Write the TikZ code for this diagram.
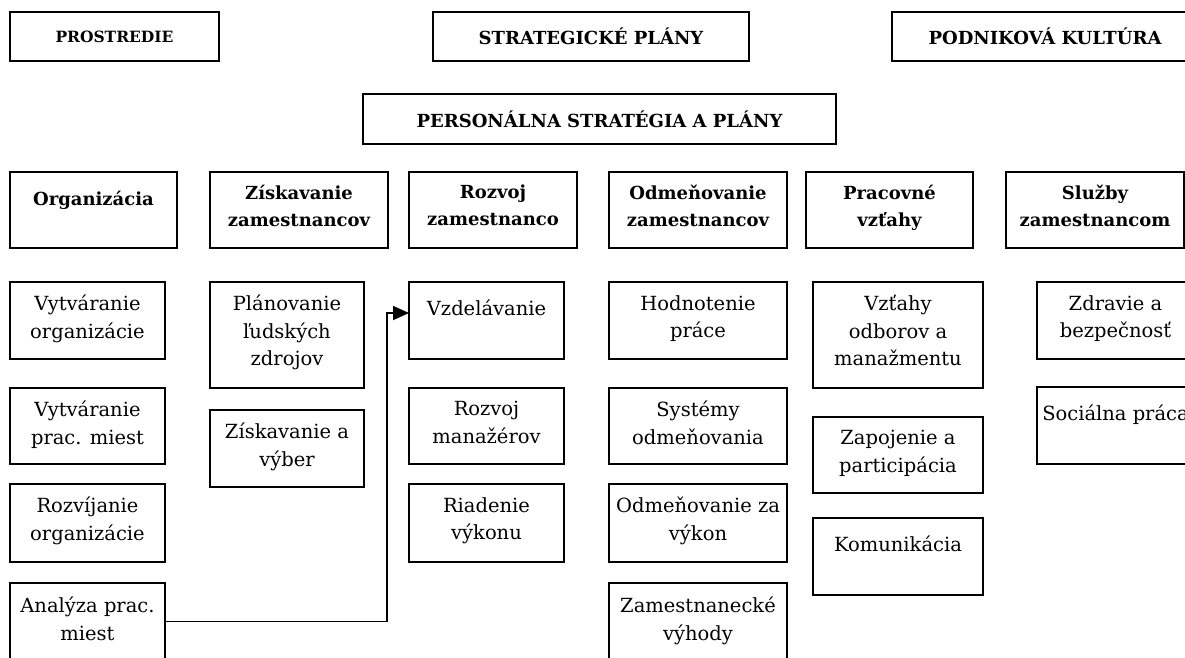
\documentclass[tikz,border=0pt]{standalone}
\usepackage{fontspec}
\setmainfont{DejaVu Serif}
\usetikzlibrary{arrows.meta}
\tikzset{
  box/.style={draw, line width=1.8pt, rectangle, inner sep=0pt, outer sep=0pt},
  txt/.style={anchor=north, inner sep=0pt, align=center,
    font=\fontsize{19.5}{27.5}\selectfont, execute at begin node={\rule{0pt}{20pt}}},
  htxt/.style={txt, font=\bfseries\fontsize{18}{27}\selectfont},
  ttxt/.style={inner sep=0pt, font=\bfseries\fontsize{18}{22}\selectfont},
  conn/.style={line width=1.8pt, -{Triangle[length=16pt,width=14pt]}}
}
\begin{document}
\begin{tikzpicture}[x=1pt,y=-1pt]
\useasboundingbox (0,0) rectangle (1185,657);
\clip (0,0) rectangle (1185,657);
% top row
\node[box, minimum width=209pt, minimum height=49pt] (pro) at (114.5,36.5) {};
\node[ttxt, font=\bfseries\fontsize{15.5}{19}\selectfont] (prot) at (pro.center) {PROSTREDIE};
\node[box, minimum width=316pt, minimum height=49pt] (str) at (591,36.5) {};
\node[ttxt] (strt) at (str.center) {STRATEGICKÉ PLÁNY};
\node[box, minimum width=306pt, minimum height=49pt] (pod) at (1045,36.5) {};
\node[ttxt] (podt) at (pod.center) {PODNIKOVÁ KULTÚRA};
\node[box, minimum width=473pt, minimum height=50pt] (per) at (599.5,119) {};
\node[ttxt] (pert) at (per.center) {PERSONÁLNA STRATÉGIA A PLÁNY};
% headers
\node[box, minimum width=167pt, minimum height=76pt] (h1) at (93.5,210) {};
\node[htxt] (h1t) at ([yshift=-13pt]h1.north) {Organizácia};
\node[box, minimum width=178pt, minimum height=76pt] (h2) at (299,210) {};
\node[htxt] (h2t) at ([yshift=-13pt]h2.north) {Získavanie\\zamestnancov};
\node[box, minimum width=168pt, minimum height=76pt] (h3) at (493,210) {};
\node[htxt] (h3t) at ([yshift=-13pt]h3.north) {Rozvoj\\zamestnanco};
\node[box, minimum width=178pt, minimum height=76pt] (h4) at (698,210) {};
\node[htxt] (h4t) at ([yshift=-13pt]h4.north) {Odmeňovanie\\zamestnancov};
\node[box, minimum width=167pt, minimum height=76pt] (h5) at (889.5,210) {};
\node[htxt] (h5t) at ([yshift=-13pt]h5.north) {Pracovné\\vzťahy};
\node[box, minimum width=178pt, minimum height=76pt] (h6) at (1095,210) {};
\node[htxt] (h6t) at ([yshift=-13pt]h6.north) {Služby\\zamestnancom};
% column 1
\node[box, minimum width=155pt, minimum height=77pt] (c1a) at (87.5,320.5) {};
\node[txt] (c1at) at ([yshift=-13pt]c1a.north) {Vytváranie\\organizácie};
\node[box, minimum width=155pt, minimum height=76pt] (c1b) at (87.5,426) {};
\node[txt] (c1bt) at ([yshift=-13pt]c1b.north) {Vytváranie\\prac. miest};
\node[box, minimum width=155pt, minimum height=78pt] (c1c) at (87.5,523) {};
\node[txt] (c1ct) at ([yshift=-13pt]c1c.north) {Rozvíjanie\\organizácie};
\node[box, minimum width=155pt, minimum height=77pt] (c1d) at (87.5,621.5) {};
\node[txt] (c1dt) at ([yshift=-14pt]c1d.north) {Analýza prac.\\miest};
% column 2
\node[box, minimum width=154pt, minimum height=106pt] (c2a) at (287,335) {};
\node[txt] (c2at) at ([yshift=-13pt]c2a.north) {Plánovanie\\ľudských\\zdrojov};
\node[box, minimum width=154pt, minimum height=77pt] (c2b) at (287,448.5) {};
\node[txt] (c2bt) at ([yshift=-13pt]c2b.north) {Získavanie a\\výber};
% column 3
\node[box, minimum width=155pt, minimum height=77pt] (c3a) at (486.5,320.5) {};
\node[txt] (c3at) at ([yshift=-13pt]c3a.north) {Vzdelávanie};
\node[box, minimum width=155pt, minimum height=76pt] (c3b) at (486.5,426) {};
\node[txt] (c3bt) at ([yshift=-13pt]c3b.north) {Rozvoj\\manažérov};
\node[box, minimum width=155pt, minimum height=78pt] (c3c) at (486.5,523) {};
\node[txt] (c3ct) at ([yshift=-13pt]c3c.north) {Riadenie\\výkonu};
% column 4
\node[box, minimum width=178pt, minimum height=77pt] (c4a) at (698,320.5) {};
\node[txt] (c4at) at ([yshift=-13pt]c4a.north) {Hodnotenie\\práce};
\node[box, minimum width=178pt, minimum height=76pt] (c4b) at (698,426) {};
\node[txt] (c4bt) at ([yshift=-13pt]c4b.north) {Systémy\\odmeňovania};
\node[box, minimum width=178pt, minimum height=78pt] (c4c) at (698,523) {};
\node[txt] (c4ct) at ([yshift=-13pt]c4c.north) {Odmeňovanie za\\výkon};
\node[box, minimum width=178pt, minimum height=77pt] (c4d) at (698,621.5) {};
\node[txt] (c4dt) at ([yshift=-14pt]c4d.north) {Zamestnanecké\\výhody};
% column 5
\node[box, minimum width=170pt, minimum height=106pt] (c5a) at (898,335) {};
\node[txt] (c5at) at ([yshift=-13pt]c5a.north) {Vzťahy\\odborov a\\manažmentu};
\node[box, minimum width=170pt, minimum height=76pt] (c5b) at (898,455) {};
\node[txt] (c5bt) at ([yshift=-13pt]c5b.north) {Zapojenie a\\participácia};
\node[box, minimum width=170pt, minimum height=77pt] (c5c) at (898,556.5) {};
\node[txt] (c5ct) at ([yshift=-13pt]c5c.north) {Komunikácia};
% column 6
\node[box, minimum width=157pt, minimum height=77pt] (c6a) at (1115.5,320.5) {};
\node[txt] (c6at) at ([yshift=-13pt]c6a.north) {Zdravie a\\bezpečnosť};
\node[box, minimum width=157pt, minimum height=77pt] (c6b) at (1115.5,425.5) {};
\node[txt] (c6bt) at ([yshift=-13pt]c6b.north) {Sociálna práca};
% connector
\coordinate (turn) at (387,313);
\draw[conn] (c1d.east) -| (turn) -- (turn -| c3a.west);
\end{tikzpicture}
\end{document}
